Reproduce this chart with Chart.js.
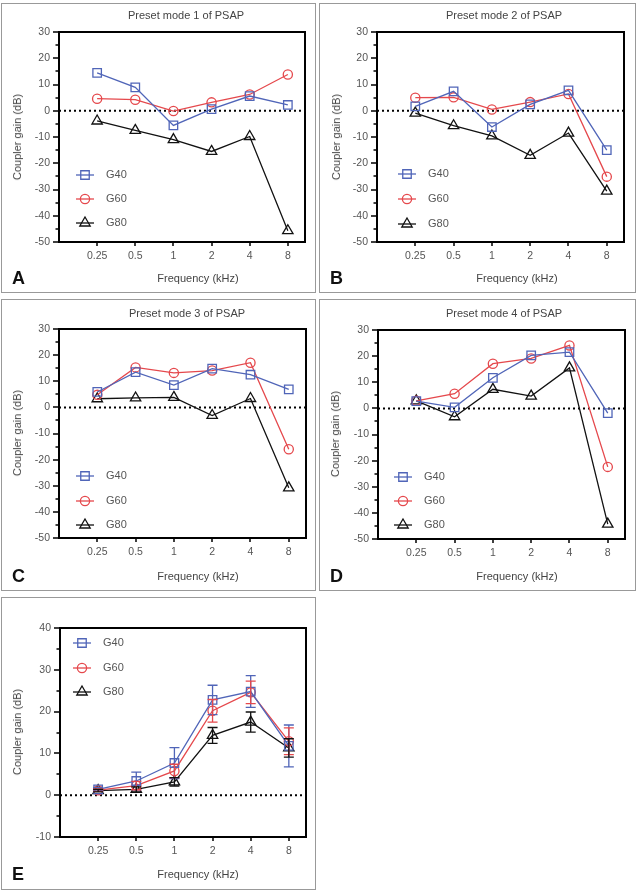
<!DOCTYPE html>
<html>
<head>
<meta charset="utf-8">
<script src="https://cdn.jsdelivr.net/npm/chart.js@4.4.1/dist/chart.umd.min.js"></script>
<style>
  body { margin: 0; width: 638px; height: 892px; background: #fff; position: relative; overflow: hidden; font-family: "Liberation Sans", Arial, sans-serif; }
  .box { position: absolute; border: 1px solid #999; box-sizing: border-box; }
  canvas { position: absolute; }
  .txt { position: absolute; white-space: nowrap; color: #444; font-size: 11px; transform: translate(-50%, -50%); }
  .ytxt { transform: translate(-50%, -50%) rotate(-90deg); }
  .letter { position: absolute; font-weight: bold; font-size: 18px; color: #111; transform: translateY(-50%); }
</style>
</head>
<body>
<script>
// data
const freqLabels = ['0.25', '0.5', '1', '2', '4', '8'];
const seriesNames = ['G40', 'G60', 'G80'];

const mode1G40 = [14.4, 8.9, -5.6, 0.6, 5.6, 2.2];
const mode1G60 = [4.6, 4.2, -0.1, 3.2, 6.2, 13.8];
const mode1G80 = [-3.9, -7.5, -11, -15.5, -9.8, -45.7];

const mode2G40 = [1.7, 7.4, -6.2, 2.4, 7.8, -15];
const mode2G60 = [5, 5.1, 0.5, 3.3, 6.4, -25.1];
const mode2G80 = [-0.9, -5.7, -9.6, -17, -8.5, -30.6];

const mode3G40 = [5.9, 13.5, 8.5, 14.8, 12.5, 6.9];
const mode3G60 = [4.8, 15.3, 13.2, 14.1, 17.1, -16];
const mode3G80 = [3.3, 3.6, 3.8, -3.1, 3.4, -30.8];

const mode4G40 = [2.8, 0.4, 11.7, 20.3, 21.5, -1.8];
const mode4G60 = [2.9, 5.6, 17.1, 19.1, 24.1, -22.4];
const mode4G80 = [2.9, -3.2, 7.3, 4.7, 15.5, -44.3];

const meanG40 = [1.4, 3.4, 7.7, 22.8, 24.8, 11.8];
const meanG60 = [1.2, 2.3, 5.8, 20.2, 24.6, 12.9];
const meanG80 = [1.1, 1.4, 3.2, 14.3, 17.5, 11.3];
const sdG40 = [0.4, 2.1, 3.7, 3.5, 3.8, 5.0];
const sdG60 = [0.3, 1.0, 1.6, 2.7, 2.7, 3.2];
const sdG80 = [0.3, 0.6, 1.0, 1.9, 2.4, 2.2];

const colors = ['#5065b8', '#e5484c', '#111111'];
const markers = ['rect', 'circle', 'triangle'];
const radii = [6, 4.6, 6];

const panels = [
    { box: [1, 3, 315, 290], plot: [59, 32, 305, 242], yMin: -50, yMax: 30,
      title: 'Preset mode 1 of PSAP', titlePos: [186, 15], yTitle: [17, 137], xTitle: [198, 278], letter: 'A', letterPos: [12, 278],
      series: [mode1G40, mode1G60, mode1G80], legendX: 85, legendY: [175, 199, 223] },
    { box: [319, 3, 317, 290], plot: [377, 32, 624, 242], yMin: -50, yMax: 30,
      title: 'Preset mode 2 of PSAP', titlePos: [504, 15], yTitle: [336, 137], xTitle: [517, 278], letter: 'B', letterPos: [330, 278],
      series: [mode2G40, mode2G60, mode2G80], legendX: 407, legendY: [174, 199, 224] },
    { box: [1, 299, 315, 292], plot: [59, 329, 306, 538], yMin: -50, yMax: 30,
      title: 'Preset mode 3 of PSAP', titlePos: [187, 313], yTitle: [17, 433], xTitle: [198, 576], letter: 'C', letterPos: [12, 576],
      series: [mode3G40, mode3G60, mode3G80], legendX: 85, legendY: [476, 501, 525] },
    { box: [319, 299, 317, 292], plot: [378, 330, 625, 539], yMin: -50, yMax: 30,
      title: 'Preset mode 4 of PSAP', titlePos: [504, 313], yTitle: [335, 434], xTitle: [517, 576], letter: 'D', letterPos: [330, 576],
      series: [mode4G40, mode4G60, mode4G80], legendX: 403, legendY: [477, 501, 525] },
    { box: [1, 597, 315, 293], plot: [60, 628, 306, 837], yMin: -10, yMax: 40,
      title: null, yTitle: [17, 732], xTitle: [198, 874], letter: 'E', letterPos: [12, 874],
      series: [meanG40, meanG60, meanG80], errors: [sdG40, sdG60, sdG80], legendX: 82, legendY: [643, 668, 692] }
];

// frame, zero line, ticks, legend, error bars (one plugin per panel)
function makeDecor(p) {
    const bx = p.box[0], by = p.box[1];
    return {
        id: 'decor',
        beforeDatasetsDraw(chart) {
            const { ctx, chartArea: a, scales: { y } } = chart;
            const y0 = y.getPixelForValue(0);
            ctx.save();
            ctx.strokeStyle = '#000';
            ctx.lineWidth = 2;
            ctx.setLineDash([2, 3]);
            ctx.beginPath();
            ctx.moveTo(a.left, y0);
            ctx.lineTo(a.right, y0);
            ctx.stroke();
            ctx.restore();
        },
        afterDatasetsDraw(chart) {
            const { ctx, chartArea: a, scales: { x, y } } = chart;
            ctx.save();
            // error bars
            if (p.errors) {
                p.series.forEach((vals, i) => {
                    const meta = chart.getDatasetMeta(i);
                    ctx.strokeStyle = colors[i];
                    ctx.lineWidth = 1.3;
                    vals.forEach((v, j) => {
                        const px = meta.data[j].x;
                        const hi = y.getPixelForValue(v + p.errors[i][j]);
                        const lo = y.getPixelForValue(v - p.errors[i][j]);
                        ctx.beginPath();
                        ctx.moveTo(px, hi); ctx.lineTo(px, lo);
                        ctx.moveTo(px - 5, hi); ctx.lineTo(px + 5, hi);
                        ctx.moveTo(px - 5, lo); ctx.lineTo(px + 5, lo);
                        ctx.stroke();
                    });
                });
            }
            // ticks
            ctx.strokeStyle = '#000';
            ctx.lineWidth = 1.5;
            ctx.beginPath();
            for (let v = y.min; v <= y.max; v += 5) {
                const py = Math.round(y.getPixelForValue(v));
                const len = v % 10 === 0 ? 6 : 3.5;
                ctx.moveTo(a.left - len, py);
                ctx.lineTo(a.left, py);
            }
            freqLabels.forEach((f, i) => {
                const px = Math.round(x.getPixelForValue(i));
                ctx.moveTo(px, a.bottom);
                ctx.lineTo(px, a.bottom + 4);
            });
            ctx.stroke();
            // frame
            ctx.lineWidth = 2;
            ctx.strokeRect(a.left, a.top, a.right - a.left, a.bottom - a.top);
            // legend
            seriesNames.forEach((name, i) => {
                const lx = p.legendX - bx, ly = p.legendY[i] - by;
                ctx.strokeStyle = colors[i];
                ctx.lineWidth = 1.3;
                ctx.beginPath();
                ctx.moveTo(lx - 9, ly);
                ctx.lineTo(lx + 9, ly);
                ctx.stroke();
                ctx.fillStyle = 'rgba(0,0,0,0)';
                Chart.helpers.drawPoint(ctx, { pointStyle: markers[i], radius: radii[i], rotation: 0, borderWidth: 1.3 }, lx, ly);
                ctx.fillStyle = '#555';
                ctx.font = '11px "Liberation Sans", Arial, sans-serif';
                ctx.textBaseline = 'middle';
                ctx.textAlign = 'left';
                ctx.fillText(name, lx + 21, ly);
            });
            ctx.restore();
        }
    };
}

function addText(cls, text, pos) {
    const d = document.createElement('div');
    d.className = cls;
    d.textContent = text;
    d.style.left = pos[0] + 'px';
    d.style.top = pos[1] + 'px';
    document.body.appendChild(d);
}

panels.forEach(p => {
    const [bx, by, bw, bh] = p.box;
    const [pl, pt, pr, pb] = p.plot;
    const box = document.createElement('div');
    box.className = 'box';
    box.style.cssText = `left:${bx}px;top:${by}px;width:${bw}px;height:${bh}px`;
    document.body.appendChild(box);
    const cv = document.createElement('canvas');
    cv.width = bw; cv.height = bh;
    cv.style.cssText = `left:${bx}px;top:${by}px;width:${bw}px;height:${bh}px`;
    document.body.appendChild(cv);

    if (p.title) addText('txt', p.title, p.titlePos);
    addText('txt ytxt', 'Coupler gain (dB)', p.yTitle);
    addText('txt', 'Frequency (kHz)', p.xTitle);
    addText('letter', p.letter, p.letterPos);

    new Chart(cv.getContext('2d'), {
        type: 'line',
        data: {
            labels: freqLabels,
            datasets: seriesNames.map((name, i) => ({
                label: name,
                data: p.series[i].map((v, j) => ({ x: j, y: v })),
                borderColor: colors[i],
                borderWidth: 1.3,
                pointStyle: markers[i],
                pointRadius: radii[i],
                pointBorderWidth: 1.3,
                pointBorderColor: colors[i],
                pointBackgroundColor: 'rgba(255,255,255,0)',
                tension: 0
            }))
        },
        options: {
            responsive: false,
            animation: false,
            layout: { padding: { left: 0, top: pt - by, right: bx + bw - pr, bottom: 0 } },
            plugins: {
                legend: { display: false },
                tooltip: { enabled: false }
            },
            scales: {
                x: {
                    type: 'linear', min: -1, max: 5.45,
                    grid: { display: false, drawTicks: false },
                    border: { display: false },
                    afterBuildTicks: s => { s.ticks = freqLabels.map((f, i) => ({ value: i })); },
                    afterFit: s => { s.height = by + bh - pb; },
                    ticks: {
                        autoSkip: false, maxRotation: 0, padding: 8, color: '#555',
                        font: { family: '"Liberation Sans", Arial, sans-serif', size: 10.5 },
                        callback: v => freqLabels[v]
                    }
                },
                y: {
                    min: p.yMin, max: p.yMax,
                    grid: { display: false, drawTicks: false },
                    border: { display: false },
                    afterFit: s => { s.width = pl - bx; },
                    ticks: {
                        stepSize: 10, padding: 9, color: '#555',
                        font: { family: '"Liberation Sans", Arial, sans-serif', size: 10.5 }
                    }
                }
            }
        },
        plugins: [makeDecor(p)]
    });
});
</script>
</body>
</html>
